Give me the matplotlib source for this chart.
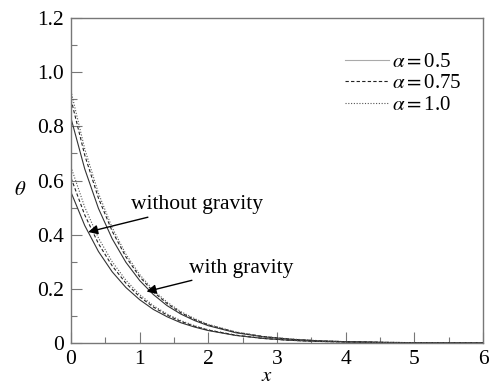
import numpy as np
import matplotlib.pyplot as plt
from matplotlib.ticker import MultipleLocator

plt.rcParams['font.family'] = 'serif'
plt.rcParams['font.serif'] = ['Liberation Serif', 'DejaVu Serif']
plt.rcParams['mathtext.fontset'] = 'stix'

x = [0, 0.2, 0.4, 0.6, 0.8, 1.0, 1.2, 1.4, 1.6, 1.8, 2.0, 2.4, 2.8, 3.2, 3.6, 4.0, 4.5, 5.0, 6.0]

# with gravity
wg_05 = [0.83, 0.643, 0.497, 0.385, 0.298, 0.231, 0.179, 0.138, 0.107, 0.083, 0.064,
         0.038, 0.023, 0.014, 0.008, 0.005, 0.0026, 0.0014, 0.0004]
wg_075 = [0.90, 0.694, 0.535, 0.413, 0.318, 0.245, 0.189, 0.146, 0.112, 0.087, 0.067,
          0.040, 0.024, 0.014, 0.008, 0.005, 0.0026, 0.0014, 0.0004]
wg_10 = [0.93, 0.717, 0.553, 0.426, 0.328, 0.253, 0.195, 0.151, 0.116, 0.090, 0.069,
         0.041, 0.024, 0.015, 0.009, 0.005, 0.003, 0.0014, 0.0004]

# without gravity
ng_05 = [0.557, 0.434, 0.338, 0.263, 0.205, 0.160, 0.124, 0.097, 0.075, 0.059, 0.046,
         0.028, 0.017, 0.010, 0.006, 0.004, 0.002, 0.001, 0.0003]
ng_075 = [0.61, 0.473, 0.367, 0.285, 0.221, 0.171, 0.133, 0.103, 0.080, 0.062, 0.048,
          0.029, 0.017, 0.010, 0.006, 0.004, 0.002, 0.001, 0.0003]
ng_10 = [0.65, 0.502, 0.388, 0.300, 0.232, 0.179, 0.138, 0.107, 0.083, 0.064, 0.049,
         0.029, 0.018, 0.010, 0.006, 0.004, 0.002, 0.001, 0.0003]

alphas = ['0.5', '0.75', '1.0']

fig = plt.figure(figsize=(4.91, 3.85), dpi=100)
ax = fig.add_axes([0.1446, 0.109, 0.839, 0.844])

ax.plot(x, wg_05, color='#333333', lw=0.8, ls='-')
ax.plot(x, wg_075, color='#222222', lw=0.8, ls=(0, (3, 2)))
ax.plot(x, wg_10, color='#555555', lw=0.8, ls=(0, (1, 1.5)))
ax.plot(x, ng_05, color='#333333', lw=0.8, ls='-')
ax.plot(x, ng_075, color='#222222', lw=0.8, ls=(0, (3, 2)))
ax.plot(x, ng_10, color='#555555', lw=0.8, ls=(0, (1, 1.5)))

# legend handles
h1, = ax.plot([], [], color='#aaaaaa', lw=0.8, ls='-')
h2, = ax.plot([], [], color='#222222', lw=0.8, ls=(0, (3, 2)))
h3, = ax.plot([], [], color='#555555', lw=0.8, ls=(0, (1, 1.5)))
ax.legend([h1, h2, h3], [r'$\alpha = $' + a for a in alphas], loc='upper left',
          frameon=False, fontsize=15, handlelength=2.1, labelspacing=0.1,
          bbox_to_anchor=(0.665, 0.895), handletextpad=0.15, borderpad=0, borderaxespad=0)

ax.set_xlim(0, 6)
ax.set_ylim(0, 1.2)
ax.xaxis.set_major_locator(MultipleLocator(1))
ax.xaxis.set_minor_locator(MultipleLocator(0.5))
ax.yaxis.set_major_locator(MultipleLocator(0.2))
ax.yaxis.set_minor_locator(MultipleLocator(0.1))
ax.set_yticks([0, 0.2, 0.4, 0.6, 0.8, 1.0, 1.2])
ax.set_yticklabels(['0', '0.2', '0.4', '0.6', '0.8', '1.0', '1.2'])
ax.tick_params(which='both', direction='in', labelsize=15.5, color='#777777', top=False, right=False)
ax.tick_params(which='major', length=8, width=0.8, pad=5)
ax.tick_params(which='minor', length=4, width=0.8)
for s in ax.spines.values():
    s.set_color('#777777')
    s.set_linewidth(1.0)

ax.set_xlabel(r'$x$', fontsize=15)
ax.set_ylabel(r'$\theta$', fontsize=15, rotation=0)
ax.xaxis.set_label_coords(0.476, -0.075)
ax.yaxis.set_label_coords(-0.124, 0.44)

ax.annotate('without gravity', xy=(0.25, 0.41), xytext=(0.88, 0.51), fontsize=15.5,
            ha='left', va='center',
            arrowprops=dict(arrowstyle='-|>', color='k', lw=1.0, mutation_scale=14, shrinkA=0, shrinkB=0))
ax.annotate('with gravity', xy=(1.1, 0.19), xytext=(1.72, 0.277), fontsize=15.5,
            ha='left', va='center',
            arrowprops=dict(arrowstyle='-|>', color='k', lw=1.0, mutation_scale=14, shrinkA=0, shrinkB=0))

fig.savefig('out.png', dpi=100)
